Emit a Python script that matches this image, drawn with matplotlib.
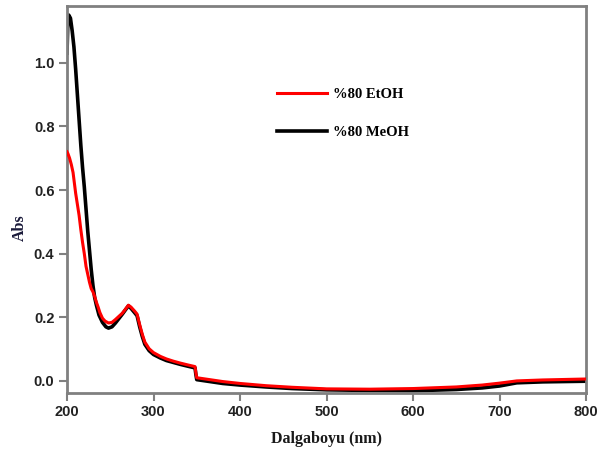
import matplotlib
matplotlib.use("Agg")
import matplotlib.pyplot as plt

# UV-Vis spectra (wavelength in nm, absorbance)
wl_meoh = [200, 201, 202, 204, 206, 208, 210, 212, 214, 216, 218, 220, 222, 224, 226, 228,
           230, 232, 234, 237, 241, 245, 248, 252, 256, 260, 264, 268, 271, 274, 278, 281,
           284, 287, 290, 295, 300, 308, 315, 323, 331, 340, 348, 349, 350, 360, 380, 400,
           430, 460, 500, 550, 600, 650, 680, 700, 720, 750, 800]
abs_meoh = [1.03, 1.13, 1.15, 1.14, 1.10, 1.05, 0.98, 0.90, 0.82, 0.74, 0.67, 0.61, 0.54,
            0.47, 0.41, 0.35, 0.30, 0.262, 0.238, 0.207, 0.184, 0.170, 0.166, 0.170, 0.182,
            0.196, 0.210, 0.225, 0.236, 0.228, 0.215, 0.205, 0.170, 0.140, 0.115, 0.095,
            0.083, 0.072, 0.064, 0.058, 0.052, 0.046, 0.041, 0.020, 0.004, 0.000, -0.008,
            -0.013, -0.019, -0.024, -0.028, -0.030, -0.031, -0.027, -0.022, -0.016, -0.006,
            -0.003, -0.001]

wl_etoh = [200, 201, 203, 205, 207, 210, 212, 214, 216, 218, 220, 222, 224, 226, 228, 230,
           232, 234, 236, 238, 241, 244, 248, 252, 256, 260, 264, 268, 271, 274, 278, 281,
           284, 287, 290, 295, 300, 308, 315, 323, 331, 340, 348, 349, 350, 360, 380, 400,
           430, 460, 500, 550, 600, 650, 680, 700, 720, 750, 800]
abs_etoh = [0.72, 0.715, 0.70, 0.68, 0.655, 0.59, 0.555, 0.52, 0.475, 0.435, 0.40, 0.36,
            0.335, 0.31, 0.29, 0.28, 0.265, 0.247, 0.232, 0.215, 0.197, 0.188, 0.182, 0.184,
            0.193, 0.203, 0.213, 0.227, 0.238, 0.232, 0.220, 0.210, 0.177, 0.147, 0.122,
            0.101, 0.089, 0.077, 0.069, 0.062, 0.056, 0.050, 0.045, 0.025, 0.010, 0.006,
            -0.002, -0.008, -0.015, -0.020, -0.025, -0.026, -0.024, -0.019, -0.013, -0.007,
            0.000, 0.003, 0.006]

labels = ["%80 EtOH", "%80 MeOH"]
x_ticks = [200, 300, 400, 500, 600, 700, 800]
y_ticks = [0.0, 0.2, 0.4, 0.6, 0.8, 1.0]

fig = plt.figure(figsize=(5.98, 4.57), dpi=100)
ax = fig.add_axes([67 / 598, 1 - 393 / 457, (586 - 67) / 598, (393 - 5.5) / 457])

ax.plot(wl_meoh, abs_meoh, color="black", lw=2.6, label=labels[1], zorder=2)
ax.plot(wl_etoh, abs_etoh, color="#ff0000", lw=2.2, label=labels[0], zorder=3)

ax.set_xlim(200, 800)
ax.set_ylim(-0.038, 1.18)
ax.set_xticks(x_ticks)
ax.set_yticks(y_ticks)
ax.set_xticklabels([str(t) for t in x_ticks])
ax.set_yticklabels([f"{t:.1f}" for t in y_ticks])

for sp in ax.spines.values():
    sp.set_color("#808080")
    sp.set_linewidth(2.0)

ax.tick_params(direction="out", length=6, width=1.5, color="#808080",
               labelsize=10.5, labelcolor="#222222", pad=3)
for lab in ax.get_xticklabels() + ax.get_yticklabels():
    lab.set_fontfamily("Liberation Sans")
    lab.set_fontweight("bold")

ax.set_xlabel("Dalgaboyu (nm)", fontfamily="Liberation Serif", fontweight="bold",
              fontsize=11.5, color="#1a1a1a", labelpad=8)
ax.set_ylabel("Abs", fontfamily="Liberation Serif", fontweight="bold",
              fontsize=11.5, color="#1a1a3a")
ax.yaxis.set_label_coords(-0.075, 0.426)

handles, labs = ax.get_legend_handles_labels()
order = [1, 0]
leg = ax.legend([handles[i] for i in order], [labs[i] for i in order],
                loc="upper left", bbox_to_anchor=(264 / 598, 1 - 75 / 457),
                bbox_transform=fig.transFigure, frameon=False,
                handlelength=3.4, handletextpad=0.4, labelspacing=1.7,
                prop={"family": "Liberation Serif", "weight": "bold", "size": 10.5})

fig.savefig("out.png", dpi=100)
